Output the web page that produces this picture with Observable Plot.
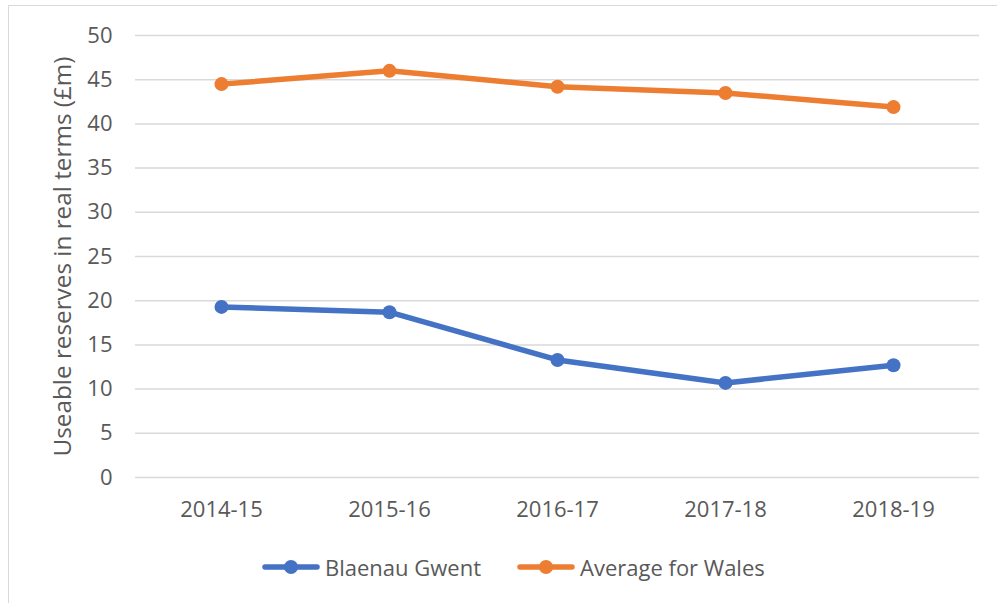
<!DOCTYPE html>
<html><head><meta charset="utf-8">
<script src="https://cdn.jsdelivr.net/npm/d3@7"></script>
<script src="https://cdn.jsdelivr.net/npm/@observablehq/plot@0.6"></script>
<style>
body{margin:0;background:#fff;font-family:"Open Sans",sans-serif;}
#wrap{position:relative;width:997px;height:603px;overflow:hidden;background:#fff;}
#border{position:absolute;left:8px;top:5px;width:1100px;height:700px;border:1px solid #d9d9d9;}
#chart{position:absolute;left:0;top:0;}
#legend{position:absolute;top:552px;left:262px;display:flex;align-items:center;font-size:22px;color:#595959;white-space:nowrap;}
#legend .item{display:flex;align-items:center;margin-right:36px;}
#legend svg{margin-right:5px;}
</style></head><body>
<div id="wrap"><div id="border"></div><div id="chart"></div><div id="legend"></div></div>
<script>
const years = ["2014-15","2015-16","2016-17","2017-18","2018-19"];
const blaenauGwent = [19.3, 18.7, 13.3, 10.7, 12.7];
const walesAverage = [44.5, 46.0, 44.2, 43.5, 41.9];
const seriesNames = ["Blaenau Gwent", "Average for Wales"];
const seriesColors = ["#4472C4", "#ED7D31"];
const yTicks = [0, 5, 10, 15, 20, 25, 30, 35, 40, 45, 50];
const yTitle = "Useable reserves in real terms (£m)";

const seriesValues = [blaenauGwent, walesAverage];
const rows = [];
seriesNames.forEach((s, i) => years.forEach((y, j) => rows.push({series: s, year: y, value: seriesValues[i][j]})));

const plot = Plot.plot({
  width: 997, height: 603,
  marginLeft: 135, marginRight: 18, marginTop: 35, marginBottom: 126,
  style: {fontFamily: "'Open Sans', sans-serif", fontSize: "22px", color: "#595959", background: "transparent", overflow: "visible"},
  x: {type: "point", domain: years, padding: 0.5},
  y: {domain: [0, 50]},
  color: {domain: seriesNames, range: seriesColors},
  marks: [
    Plot.ruleY(yTicks, {stroke: "#d9d9d9", strokeWidth: 1.5}),
    Plot.axisY({ticks: yTicks, tickSize: 0, tickPadding: 23, label: null}),
    Plot.axisX({tickSize: 0, tickPadding: 24, label: null}),
    Plot.text([yTitle], {text: d => d, frameAnchor: "left", textAnchor: "middle", dx: -72, rotate: -90, fontSize: 24.3, fill: "#595959"}),
    Plot.line(rows, {x: "year", y: "value", stroke: "series", strokeWidth: 5.5, z: "series"}),
    Plot.dot(rows, {x: "year", y: "value", fill: "series", r: 7})
  ]
});
document.getElementById("chart").appendChild(plot);

const legend = d3.select("#legend");
seriesNames.forEach((name, i) => {
  const item = legend.append("div").attr("class", "item");
  const svg = item.append("svg").attr("width", 58).attr("height", 16);
  svg.append("line").attr("x1", 3).attr("x2", 55).attr("y1", 8).attr("y2", 8)
    .attr("stroke", seriesColors[i]).attr("stroke-width", 5.5).attr("stroke-linecap", "round");
  svg.append("circle").attr("cx", 29).attr("cy", 8).attr("r", 7).attr("fill", seriesColors[i]);
  item.append("span").text(name);
});
</script>
</body></html>
